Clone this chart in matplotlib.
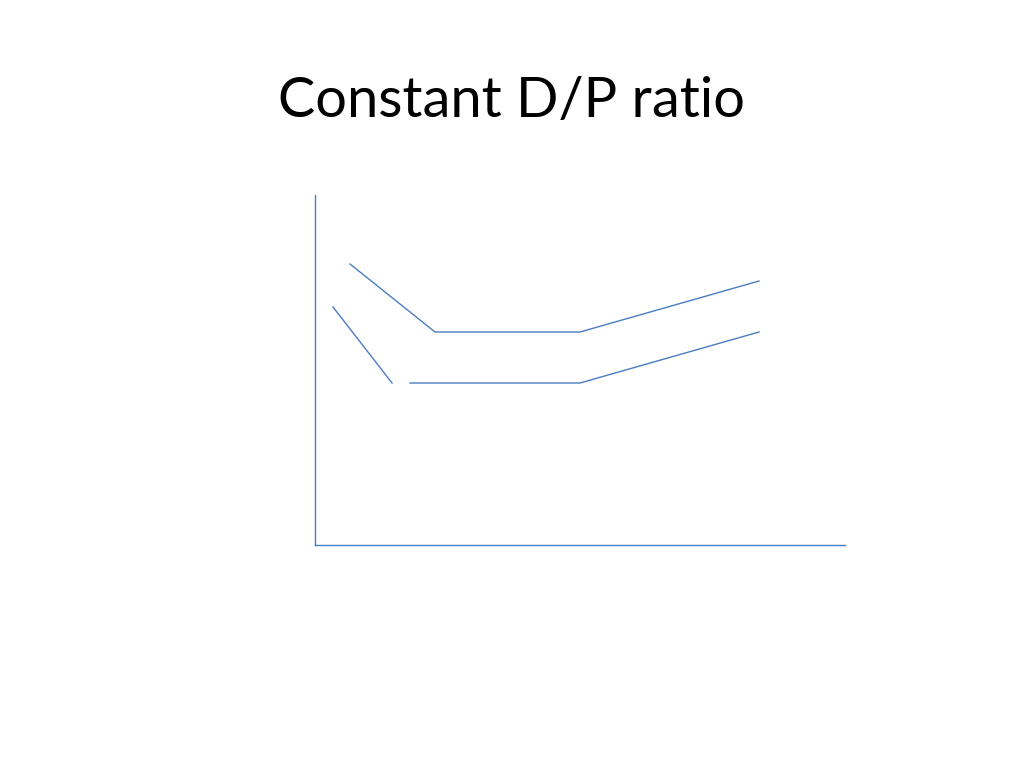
import matplotlib
matplotlib.use("Agg")
import matplotlib.pyplot as plt

# data (arbitrary units)
upper_x = [35, 120, 265, 444]
upper_y = [281, 213, 213, 264]
lower1_x = [18, 77]
lower1_y = [238, 162]
lower2_x = [95, 265, 444]
lower2_y = [162, 162, 213]

title = "Constant D/P ratio"
color = "#4a7cc4"

fig = plt.figure(figsize=(10.24, 7.68), dpi=100)
fig.patch.set_facecolor("white")
ax = fig.add_axes([315/1024, (768-545)/768, 530/1024, 350/768])
ax.plot(upper_x, upper_y, color=color, lw=1.0)
ax.plot(lower1_x, lower1_y, color=color, lw=1.0)
ax.plot(lower2_x, lower2_y, color=color, lw=1.0)
ax.set_xlim(0, 530)
ax.set_ylim(0, 350)
ax.set_xticks([])
ax.set_yticks([])
for s in ["top", "right"]:
    ax.spines[s].set_visible(False)
for s in ["left", "bottom"]:
    ax.spines[s].set_color(color)
    ax.spines[s].set_linewidth(1.0)

fig.text(512/1024, 1 - 117/768, title, ha="center", va="baseline",
         fontsize=40.2, family="Lato", color="black")
fig.savefig("out.png", dpi=100)
